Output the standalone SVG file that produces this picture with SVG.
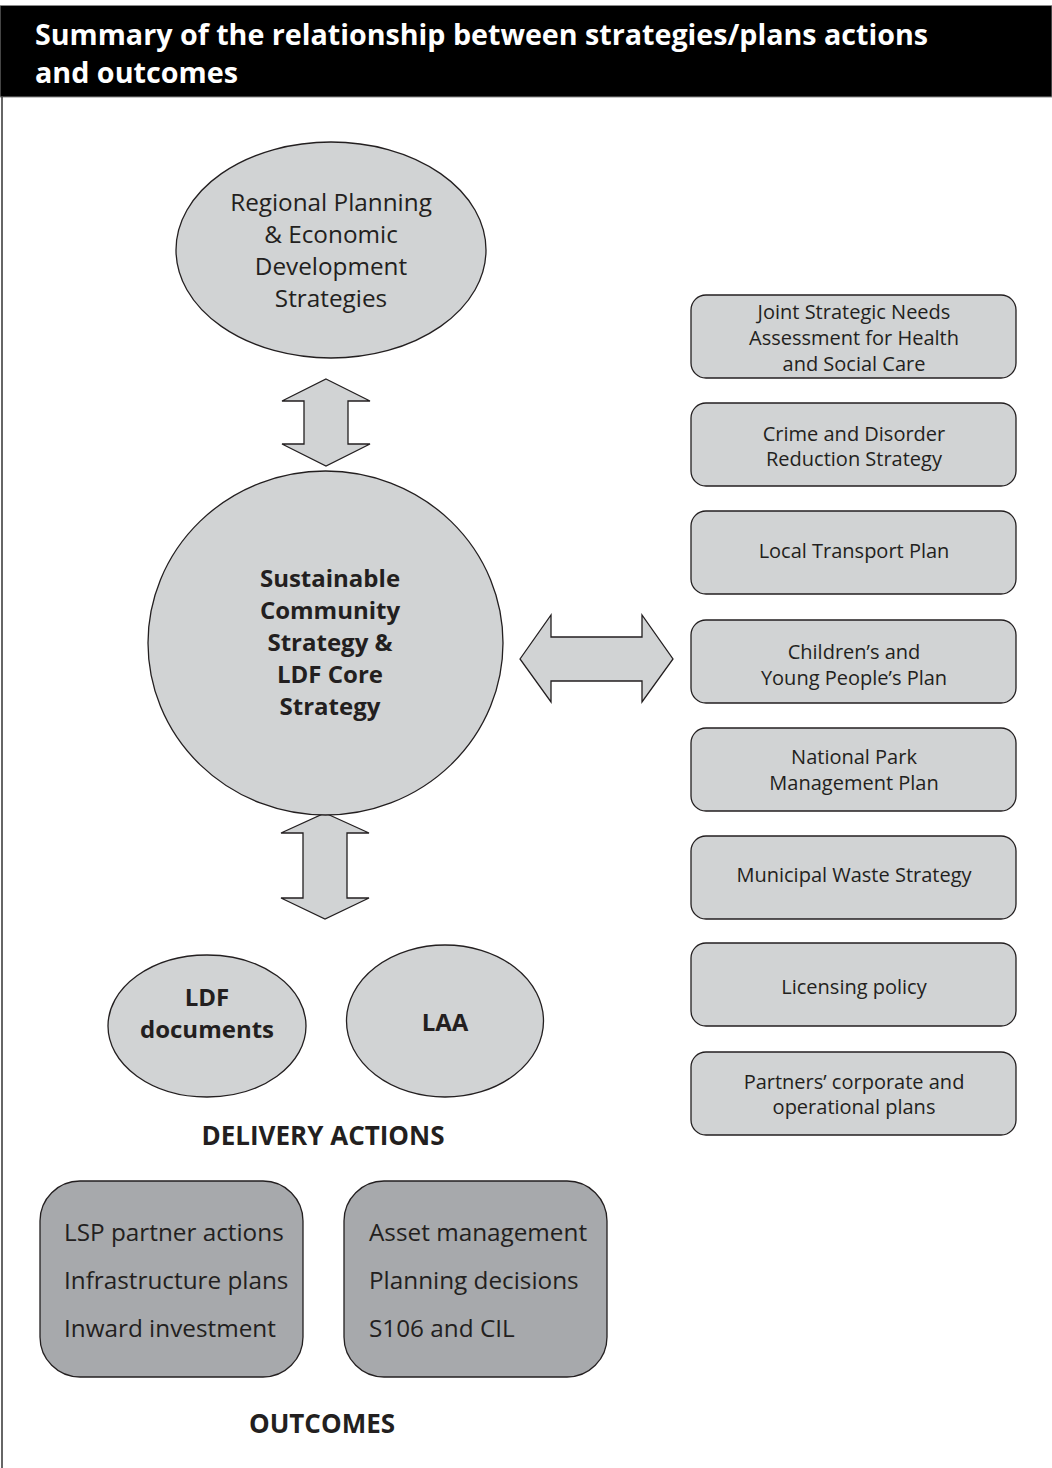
<svg xmlns="http://www.w3.org/2000/svg" width="1052" height="1468" viewBox="0 0 1052 1468">
<style>
  .shape { fill: #d1d3d4; stroke: #231f20; stroke-width: 1.3; }
  .dark { fill: #a7a9ac; stroke: #231f20; stroke-width: 1.3; }
  .t { font-family: "Open Sans", "Noto Sans", "Liberation Sans", sans-serif; fill: #231f20; }
  .r20 { font-size: 20px; text-anchor: middle; }
  .r24 { font-size: 24.3px; text-anchor: middle; }
  .b24 { font-size: 24px; font-weight: bold; text-anchor: middle; }
  .list { font-size: 24.3px; }
  .head { font-size: 26px; font-weight: bold; text-anchor: middle; }
  .title { font-family: "Open Sans", "Noto Sans", "Liberation Sans", sans-serif; font-size: 28px; font-weight: bold; fill: #ffffff; }
</style>
<rect x="0" y="0" width="1052" height="1468" fill="#ffffff"/>
<g id="title">
  <rect x="0" y="5.5" width="1052" height="91.5" fill="#000000" stroke="#8a8a8a" stroke-width="1"/>
  <text class="title" x="35" y="45" textLength="893" lengthAdjust="spacingAndGlyphs">Summary of the relationship between strategies/plans actions</text>
  <text class="title" x="35" y="83" textLength="203" lengthAdjust="spacingAndGlyphs">and outcomes</text>
</g>
<line x1="2" y1="97" x2="2" y2="1468" stroke="#333333" stroke-width="1.5"/>

<g id="connectors">
  <polygon class="shape" points="326,379 370,401 348,401 348,444 370,444 326,466 282,444 304,444 304,401 282,401"/>
  <polygon class="shape" points="325,813 369,833 347,833 347,898 369,898 325,919 281,898 303,898 303,833 281,833"/>
  <polygon class="shape" points="520,659 551,615 551,637 642,637 642,615 673,659 642,702 642,681 551,681 551,702"/>
</g>

<g id="regional">
  <ellipse class="shape" cx="331" cy="250" rx="155" ry="108"/>
  <text class="t r24" x="331" y="211">Regional Planning</text>
  <text class="t r24" x="331" y="243">&amp; Economic</text>
  <text class="t r24" x="331" y="275">Development</text>
  <text class="t r24" x="331" y="307">Strategies</text>
</g>

<g id="scs">
  <ellipse class="shape" cx="325.5" cy="643" rx="177.5" ry="172"/>
  <text class="t b24" x="330" y="587">Sustainable</text>
  <text class="t b24" x="330" y="619">Community</text>
  <text class="t b24" x="330" y="651">Strategy &amp;</text>
  <text class="t b24" x="330" y="683">LDF Core</text>
  <text class="t b24" x="330" y="715">Strategy</text>
</g>

<g id="ldf">
  <ellipse class="shape" cx="207" cy="1026" rx="99" ry="71"/>
  <text class="t b24" x="207" y="1006">LDF</text>
  <text class="t b24" x="207" y="1038">documents</text>
</g>

<g id="laa">
  <ellipse class="shape" cx="445" cy="1021" rx="98.5" ry="76"/>
  <text class="t b24" x="445" y="1031">LAA</text>
</g>

<g id="delivery-label">
  <text class="t head" x="323" y="1145">DELIVERY ACTIONS</text>
</g>

<g id="box-a">
  <rect class="dark" x="40" y="1181" width="263" height="196" rx="40" ry="40"/>
  <text class="t list" x="64" y="1241">LSP partner actions</text>
  <text class="t list" x="64" y="1289">Infrastructure plans</text>
  <text class="t list" x="64" y="1337">Inward investment</text>
</g>

<g id="box-b">
  <rect class="dark" x="344" y="1181" width="263" height="196" rx="40" ry="40"/>
  <text class="t list" x="369" y="1241">Asset management</text>
  <text class="t list" x="369" y="1289">Planning decisions</text>
  <text class="t list" x="369" y="1337">S106 and CIL</text>
</g>

<g id="outcomes-label">
  <text class="t head" x="322" y="1433">OUTCOMES</text>
</g>

<g id="jsna">
  <rect class="shape" x="691" y="295" width="325" height="83" rx="15" ry="15"/>
  <text class="t r20" x="854" y="319">Joint Strategic Needs</text>
  <text class="t r20" x="854" y="345">Assessment for Health</text>
  <text class="t r20" x="854" y="371">and Social Care</text>
</g>
<g id="crime">
  <rect class="shape" x="691" y="403" width="325" height="83" rx="15" ry="15"/>
  <text class="t r20" x="854" y="441">Crime and Disorder</text>
  <text class="t r20" x="854" y="466">Reduction Strategy</text>
</g>
<g id="ltp">
  <rect class="shape" x="691" y="511" width="325" height="83" rx="15" ry="15"/>
  <text class="t r20" x="854" y="558">Local Transport Plan</text>
</g>
<g id="cypp">
  <rect class="shape" x="691" y="620" width="325" height="83" rx="15" ry="15"/>
  <text class="t r20" x="854" y="659">Children’s and</text>
  <text class="t r20" x="854" y="685">Young People’s Plan</text>
</g>
<g id="npmp">
  <rect class="shape" x="691" y="728" width="325" height="83" rx="15" ry="15"/>
  <text class="t r20" x="854" y="764">National Park</text>
  <text class="t r20" x="854" y="790">Management Plan</text>
</g>
<g id="waste">
  <rect class="shape" x="691" y="836" width="325" height="83" rx="15" ry="15"/>
  <text class="t r20" x="854" y="882">Municipal Waste Strategy</text>
</g>
<g id="licensing">
  <rect class="shape" x="691" y="943" width="325" height="83" rx="15" ry="15"/>
  <text class="t r20" x="854" y="994">Licensing policy</text>
</g>
<g id="partners">
  <rect class="shape" x="691" y="1052" width="325" height="83" rx="15" ry="15"/>
  <text class="t r20" x="854" y="1089">Partners’ corporate and</text>
  <text class="t r20" x="854" y="1114">operational plans</text>
</g>
</svg>
